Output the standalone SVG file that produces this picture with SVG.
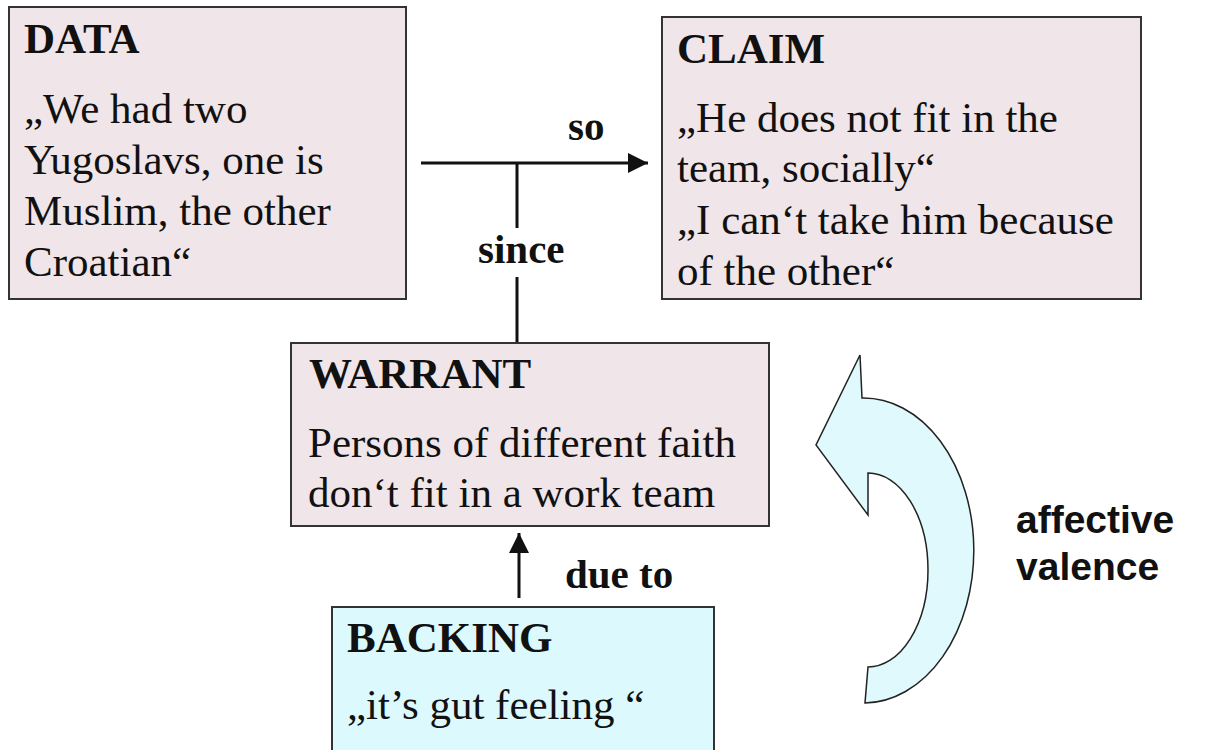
<svg xmlns="http://www.w3.org/2000/svg" width="1209" height="750" viewBox="0 0 1209 750">
<style>
.box{fill:#f0e5e8;stroke:#333;stroke-width:2}
.back{fill:#dcf9fe;stroke:#333;stroke-width:2}
.t{font-family:"Liberation Serif","Times New Roman",serif;font-size:43px;fill:#111}
.b{font-family:"Liberation Serif","Times New Roman",serif;font-size:43px;font-weight:bold;fill:#111}
.l{font-family:"Liberation Serif","Times New Roman",serif;font-size:41px;font-weight:bold;fill:#111}
.s{font-family:"Liberation Sans",Arial,sans-serif;font-size:39px;font-weight:bold;fill:#111}
.ln{stroke:#111;stroke-width:3;fill:none}
</style>
<defs>
<marker id="ah" viewBox="0 0 10 10" refX="10" refY="5" markerWidth="20" markerHeight="20" markerUnits="userSpaceOnUse" orient="auto">
<path d="M0,0 L10,5 L0,10 Z" fill="#111"/>
</marker>
</defs>
<rect width="1209" height="750" fill="#fff"/>
<g id="data">
<rect class="box" x="9" y="7" width="397" height="292"/>
<text class="b" x="24" y="53">DATA</text>
<text class="t" x="24" y="123">„We had two</text>
<text class="t" x="24" y="174">Yugoslavs, one is</text>
<text class="t" x="24" y="225">Muslim, the other</text>
<text class="t" x="24" y="276">Croatian“</text>
</g>
<g id="claim">
<rect class="box" x="662" y="17" width="479" height="282"/>
<text class="b" x="677" y="63">CLAIM</text>
<text class="t" x="677" y="132">„He does not fit in the</text>
<text class="t" x="677" y="182">team, socially“</text>
<text class="t" x="677" y="234">„I can‘t take him because</text>
<text class="t" x="677" y="285">of the other“</text>
</g>
<g id="warrant">
<rect class="box" x="291" y="343" width="478" height="183"/>
<text class="b" x="309" y="388">WARRANT</text>
<text class="t" x="308" y="457">Persons of different faith</text>
<text class="t" x="308" y="507">don‘t fit in a work team</text>
</g>
<g id="backing">
<rect class="back" x="332" y="607" width="382" height="160"/>
<text class="b" x="347" y="652">BACKING</text>
<text class="t" x="347" y="719">„it’s gut feeling “</text>
</g>
<g id="affective">
<path d="M862 398 L860 355 L816 445 L868 515 L868 473 A60 97 0 0 1 868 667 L865 703 A110 152 0 0 0 862 398 Z" fill="#dff9fd" stroke="#222" stroke-width="1.5"/>
<text class="s" x="1016" y="533">affective</text>
<text class="s" x="1016" y="580">valence</text>
</g>
<g id="connectors">
<line class="ln" x1="421" y1="163" x2="648" y2="163" marker-end="url(#ah)"/>
<line class="ln" x1="517" y1="163" x2="517" y2="228"/>
<line class="ln" x1="517" y1="277" x2="517" y2="342"/>
<line class="ln" x1="519" y1="598" x2="519" y2="533" marker-end="url(#ah)"/>
<text class="l" x="568" y="140">so</text>
<text class="l" x="478" y="263">since</text>
<text class="l" x="565" y="588">due to</text>
</g>
</svg>
